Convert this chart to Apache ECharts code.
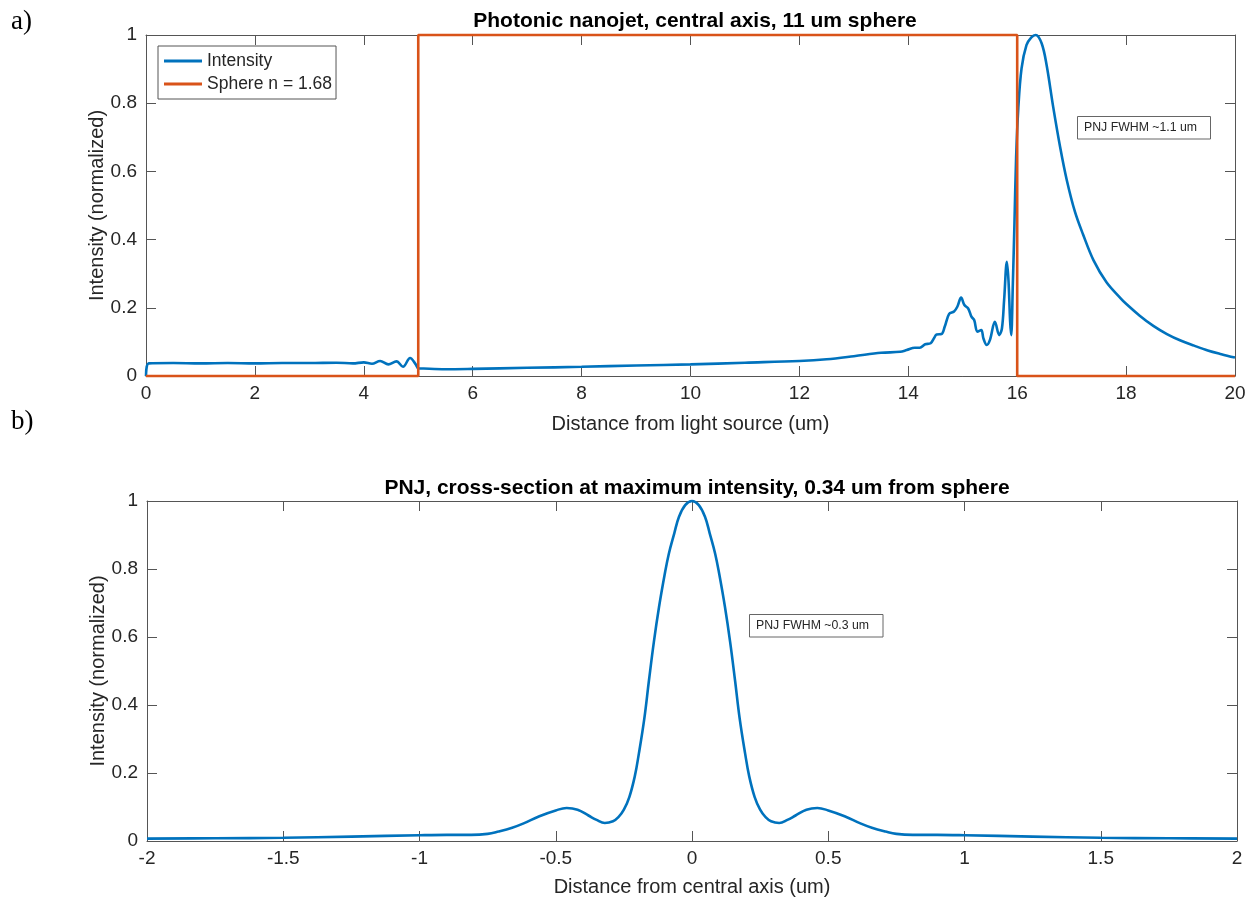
<!DOCTYPE html>
<html>
<head>
<meta charset="utf-8">
<script src="https://cdn.jsdelivr.net/npm/echarts@6/dist/echarts.min.js"></script>
<style>
html,body{margin:0;padding:0;background:#fff;}
#chart{width:1258px;height:901px;}
</style>
</head>
<body>
<div id="chart"></div>
<script>
// ---- Panel a) data: central axis ----
var axialX = [0, 0.05, 0.5, 1.0, 1.5, 2.0, 2.5, 3.0, 3.5, 3.8, 4.0, 4.15, 4.3, 4.45, 4.6, 4.72, 4.85, 4.95, 5.0, 5.1, 5.5, 6.0, 7.0, 8.0, 9.0, 10.0, 11.0, 12.0, 12.5, 13.0, 13.5, 13.85, 13.97, 14.12, 14.21, 14.31, 14.41, 14.48, 14.52, 14.61, 14.67, 14.75, 14.84, 14.90, 14.97, 15.03, 15.10, 15.16, 15.21, 15.27, 15.34, 15.38, 15.44, 15.50, 15.59, 15.67, 15.72, 15.76, 15.81, 15.84, 15.87, 15.89, 15.92, 15.95, 15.98, 16.02, 16.08, 16.17, 16.26, 16.34, 16.45, 16.54, 16.66, 16.79, 16.91, 17.06, 17.21, 17.40, 17.64, 17.9, 18.0, 18.25, 18.5, 18.75, 19.0, 19.25, 19.5, 19.75, 20.0];
var axialIntensity = [0, 0.037, 0.038, 0.037, 0.038, 0.037, 0.038, 0.038, 0.039, 0.037, 0.040, 0.036, 0.044, 0.034, 0.043, 0.027, 0.053, 0.035, 0.023, 0.022, 0.020, 0.021, 0.024, 0.027, 0.031, 0.034, 0.039, 0.044, 0.049, 0.058, 0.068, 0.071, 0.076, 0.083, 0.083, 0.093, 0.096, 0.113, 0.122, 0.123, 0.145, 0.182, 0.189, 0.203, 0.230, 0.208, 0.198, 0.174, 0.164, 0.130, 0.135, 0.110, 0.091, 0.106, 0.159, 0.120, 0.140, 0.223, 0.335, 0.28, 0.16, 0.12, 0.27, 0.45, 0.64, 0.785, 0.902, 0.97, 0.993, 1.0, 0.975, 0.912, 0.79, 0.67, 0.575, 0.482, 0.415, 0.34, 0.275, 0.228, 0.212, 0.177, 0.147, 0.123, 0.104, 0.089, 0.075, 0.064, 0.054];
var sphereX = [0, 5, 5, 16, 16, 20];
var sphereN = [0, 0, 1, 1, 0, 0];

// ---- Panel b) data: cross-section ----
var radialX = [-2.0, -1.75, -1.5, -1.25, -1.0, -0.9, -0.81, -0.75, -0.71, -0.66, -0.62, -0.56, -0.5, -0.46, -0.42, -0.38, -0.35, -0.32, -0.29, -0.27, -0.25, -0.23, -0.21, -0.195, -0.175, -0.158, -0.14, -0.121, -0.1, -0.085, -0.065, -0.048, -0.025, 0, 0.025, 0.048, 0.065, 0.085, 0.1, 0.121, 0.14, 0.158, 0.175, 0.195, 0.21, 0.23, 0.25, 0.27, 0.29, 0.32, 0.35, 0.38, 0.42, 0.46, 0.5, 0.56, 0.62, 0.66, 0.71, 0.75, 0.81, 0.9, 1.0, 1.25, 1.5, 1.75, 2.0];
var radialIntensity = [0.007, 0.008, 0.0095, 0.013, 0.017, 0.018, 0.018, 0.021, 0.028, 0.039, 0.051, 0.073, 0.090, 0.097, 0.092, 0.075, 0.062, 0.053, 0.058, 0.070, 0.092, 0.129, 0.19, 0.257, 0.36, 0.472, 0.585, 0.688, 0.785, 0.845, 0.905, 0.953, 0.988, 1.0, 0.988, 0.953, 0.905, 0.845, 0.785, 0.688, 0.585, 0.472, 0.36, 0.257, 0.19, 0.129, 0.092, 0.070, 0.058, 0.053, 0.062, 0.075, 0.092, 0.097, 0.090, 0.073, 0.051, 0.039, 0.028, 0.021, 0.018, 0.018, 0.017, 0.013, 0.0095, 0.008, 0.007];

// ---- Tick labels ----
var yTicks = ['0', '0.2', '0.4', '0.6', '0.8', '1'];

function pairs(xs, ys) { return xs.map(function (x, i) { return [x, ys[i]]; }); }

var FONT = 'Liberation Sans, Arial, Helvetica, sans-serif';
var AX = '#555555';
var TXT = '#262626';
var BLUE = '#0072BD';
var ORANGE = '#D95319';

function baseAxis(extra) {
  var a = {
    type: 'value',
    axisLine: { show: true, onZero: false, lineStyle: { color: AX, width: 1 } },
    axisTick: { show: true, inside: true, length: 10, lineStyle: { color: AX, width: 1 } },
    axisLabel: { show: true, color: TXT, fontSize: 19, fontFamily: FONT, margin: 8, showMinLabel: true, showMaxLabel: true },
    splitLine: { show: false },
    nameMoveOverlap: false,
    nameTextStyle: { color: TXT, fontSize: 20, fontFamily: FONT }
  };
  for (var k in extra) a[k] = extra[k];
  return a;
}

var chart = echarts.init(document.getElementById('chart'), null, { renderer: 'canvas' });

var option = {
  animation: false,
  backgroundColor: '#ffffff',
  title: [
    { text: 'Photonic nanojet, central axis, 11 um sphere', left: 690, top: 6, textAlign: 'center',
      textStyle: { fontSize: 21, fontWeight: 'bold', color: '#000', fontFamily: FONT } },
    { text: 'PNJ, cross-section at maximum intensity, 0.34 um from sphere', left: 692, top: 473, textAlign: 'center',
      textStyle: { fontSize: 21, fontWeight: 'bold', color: '#000', fontFamily: FONT } }
  ],
  legend: {
    left: 158, top: 46, orient: 'vertical',
    data: ['Intensity', 'Sphere n = 1.68'],
    icon: 'rect', itemWidth: 38, itemHeight: 3, itemGap: 3,
    padding: [5, 4, 5, 6],
    borderColor: AX, borderWidth: 1, backgroundColor: '#fff',
    textStyle: { fontSize: 17.5, fontFamily: FONT, color: TXT, lineHeight: 20 }
  },
  grid: [
    { left: 146, top: 35, width: 1089, height: 341 },
    { left: 147, top: 501, width: 1090, height: 340 }
  ],
  xAxis: [
    baseAxis({ gridIndex: 0, min: 0, max: 20, interval: 2, position: 'bottom',
      name: 'Distance from light source (um)', nameLocation: 'middle', nameGap: 38 }),
    baseAxis({ gridIndex: 0, min: 0, max: 20, interval: 2, position: 'top', axisLabel: { show: false } }),
    baseAxis({ gridIndex: 1, min: -2, max: 2, interval: 0.5, position: 'bottom',
      name: 'Distance from central axis (um)', nameLocation: 'middle', nameGap: 36 }),
    baseAxis({ gridIndex: 1, min: -2, max: 2, interval: 0.5, position: 'top', axisLabel: { show: false } })
  ],
  yAxis: [
    baseAxis({ gridIndex: 0, min: 0, max: 1, interval: 0.2, position: 'left',
      axisLabel: { show: true, color: TXT, fontSize: 19, fontFamily: FONT, margin: 9,
        formatter: function (v) { return yTicks[Math.round(v * 5)]; } },
      name: 'Intensity (normalized)', nameLocation: 'middle', nameGap: 39 }),
    baseAxis({ gridIndex: 0, min: 0, max: 1, interval: 0.2, position: 'right', axisLabel: { show: false } }),
    baseAxis({ gridIndex: 1, min: 0, max: 1, interval: 0.2, position: 'left',
      axisLabel: { show: true, color: TXT, fontSize: 19, fontFamily: FONT, margin: 9,
        formatter: function (v) { return yTicks[Math.round(v * 5)]; } },
      name: 'Intensity (normalized)', nameLocation: 'middle', nameGap: 39 }),
    baseAxis({ gridIndex: 1, min: 0, max: 1, interval: 0.2, position: 'right', axisLabel: { show: false } })
  ],
  series: [
    { name: 'Intensity', type: 'line', xAxisIndex: 0, yAxisIndex: 0, data: pairs(axialX, axialIntensity),
      showSymbol: false, symbol: 'none', smooth: 0.35, clip: false,
      lineStyle: { color: BLUE, width: 2.6 }, itemStyle: { color: BLUE } },
    { name: 'Sphere n = 1.68', type: 'line', xAxisIndex: 0, yAxisIndex: 0, data: pairs(sphereX, sphereN),
      showSymbol: false, symbol: 'none', clip: false,
      lineStyle: { color: ORANGE, width: 2.6 }, itemStyle: { color: ORANGE } },
    { name: 'Cross-section', type: 'line', xAxisIndex: 2, yAxisIndex: 2, data: pairs(radialX, radialIntensity),
      showSymbol: false, symbol: 'none', smooth: 0.4, clip: false,
      lineStyle: { color: BLUE, width: 2.6 }, itemStyle: { color: BLUE } }
  ],
  graphic: [
    { type: 'text', left: 11, top: 8, style: { text: 'a)', font: '27px "Liberation Serif", "Times New Roman", serif', fill: '#000' } },
    { type: 'text', left: 11, top: 408, style: { text: 'b)', font: '27px "Liberation Serif", "Times New Roman", serif', fill: '#000' } },
    { type: 'rect', shape: { x: 1077.5, y: 116.5, width: 133, height: 22.5 }, style: { fill: '#fff', stroke: '#666', lineWidth: 1 } },
    { type: 'text', x: 1084, y: 128, style: { text: 'PNJ FWHM ~1.1 um', font: '12.3px ' + FONT, fill: TXT, verticalAlign: 'middle' } },
    { type: 'rect', shape: { x: 749.5, y: 614.5, width: 133.5, height: 22.5 }, style: { fill: '#fff', stroke: '#666', lineWidth: 1 } },
    { type: 'text', x: 756, y: 626, style: { text: 'PNJ FWHM ~0.3 um', font: '12.3px ' + FONT, fill: TXT, verticalAlign: 'middle' } }
  ]
};
chart.setOption(option);
</script>
</body>
</html>
